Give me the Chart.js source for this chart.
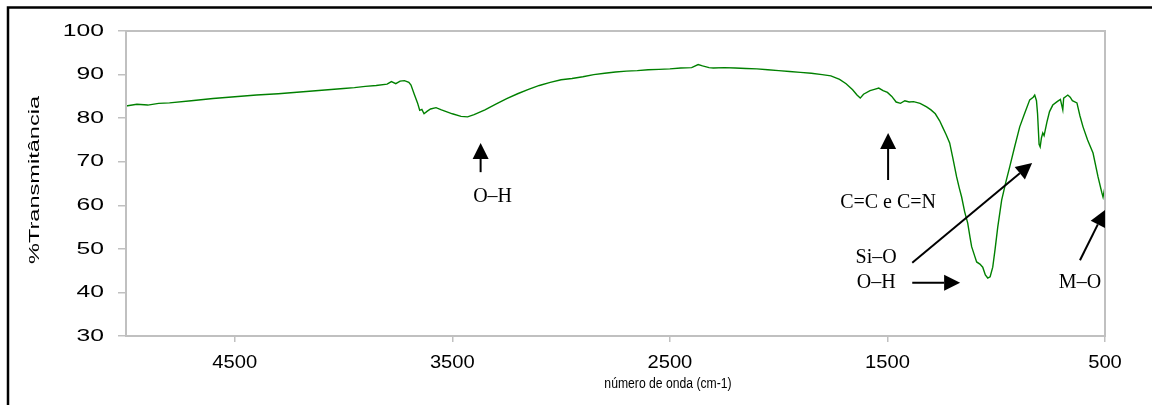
<!DOCTYPE html>
<html>
<head>
<meta charset="utf-8">
<script src="https://cdn.jsdelivr.net/npm/chart.js@4.4.0/dist/chart.umd.min.js"></script>
<style>
  body { margin: 0; background: #fff; }
  canvas { display: block; }
</style>
</head>
<body>
<canvas id="myChart" width="1152" height="405"></canvas>
<script>
const numeroOnda = [
    5000, 4950, 4900, 4850, 4800, 4700, 4600, 4500, 4400, 4300, 4200, 4100, 4000, 3950, 3900, 3850,
    3800, 3780, 3760, 3740, 3720, 3700, 3690, 3675, 3660, 3650, 3640, 3630, 3615, 3600, 3575, 3550,
    3500, 3460, 3430, 3400, 3350, 3300, 3250, 3200, 3150, 3100, 3050, 3000, 2950, 2900, 2850, 2800,
    2750, 2700, 2650, 2600, 2550, 2500, 2450, 2400, 2370, 2350, 2320, 2300, 2250, 2200, 2150, 2100,
    2050, 2000, 1950, 1900, 1850, 1800, 1760, 1720, 1690, 1660, 1640, 1625, 1610, 1580, 1560, 1540,
    1520, 1500, 1480, 1460, 1440, 1420, 1400, 1380, 1350, 1320, 1300, 1280, 1260, 1247, 1230, 1214,
    1200, 1182, 1170, 1159, 1145, 1131, 1120, 1113, 1100, 1090, 1075, 1062, 1050, 1039, 1028, 1016,
    1005, 993, 975, 955, 938, 915, 892, 870, 846, 830, 823, 815, 810, 803, 798, 792,
    786, 780, 767, 755, 740, 720, 705, 694, 690, 671, 660, 650, 629, 615, 601, 580,
    555, 532, 515, 509, 503, 500
];

// % Transmitância
const transmitancia = [
    82.8, 83.2, 83.0, 83.4, 83.5, 84.0, 84.5, 84.9, 85.3, 85.6, 86.0, 86.4, 86.8, 87.0, 87.3, 87.5,
    87.8, 88.4, 87.9, 88.5, 88.6, 88.2, 87.6, 85.5, 83.5, 81.8, 82.0, 81.0, 81.6, 82.1, 82.4, 81.9,
    81.0, 80.4, 80.3, 80.8, 81.9, 83.2, 84.5, 85.6, 86.6, 87.5, 88.2, 88.8, 89.1, 89.5, 90.0, 90.3,
    90.6, 90.8, 90.9, 91.1, 91.2, 91.3, 91.5, 91.6, 92.3, 92.0, 91.6, 91.5, 91.6, 91.5, 91.4, 91.3,
    91.1, 90.9, 90.7, 90.5, 90.3, 90.0, 89.7, 88.9, 87.9, 86.5, 85.3, 84.6, 85.5, 86.3, 86.6, 86.9,
    86.3, 85.9, 85.0, 83.7, 83.4, 84.0, 83.7, 83.8, 83.4, 82.6, 81.9, 81.0, 79.4, 78.0, 76.2, 74.3,
    71.0, 66.5, 64.0, 61.9, 58.5, 55.9, 52.5, 50.5, 48.5, 47.0, 46.5, 45.8, 44.0, 43.3, 43.6, 45.8,
    50.0, 55.0, 61.2, 65.5, 68.8, 73.5, 78.0, 81.0, 84.2, 84.8, 85.3, 84.0, 81.0, 74.0, 73.4, 75.5,
    76.6, 76.0, 79.1, 81.5, 83.0, 83.8, 84.3, 81.9, 84.6, 85.3, 84.8, 84.0, 83.5, 80.5, 78.0, 75.0,
    72.0, 66.5, 63.0, 61.9, 63.5, 64.2
];

const ticksX = [4500, 3500, 2500, 1500, 500];
const ticksY = [30, 40, 50, 60, 70, 80, 90, 100];

// Anotaciones: texto y flechas en coordenadas de datos
const etiquetas = [
    { texto: 'O–H', x: 3315, y: 61.9 },
    { texto: 'C=C e C=N', x: 1497, y: 60.5 },
    { texto: 'Si–O', x: 1552, y: 47.9 },
    { texto: 'O–H', x: 1552, y: 42.2 },
    { texto: 'M–O', x: 615, y: 42.2 }
];
const flechas = [
    { x0: 3370, y0: 67.6, x1: 3370, y1: 74.3 },
    { x0: 1497, y0: 65.8, x1: 1497, y1: 76.6 },
    { x0: 1386, y0: 46.8, x1: 835, y1: 69.7 },
    { x0: 1386, y0: 42.2, x1: 1166, y1: 42.2 },
    { x0: 615, y0: 47.4, x1: 500, y1: 58.9 }
];

const GRIS = '#c0c0c0';

// texto estirado horizontalmente (como en la imagen original)
function textoEstirado(ctx, txt, x, y, escala, align) {
    ctx.save();
    ctx.translate(x, y);
    ctx.scale(escala, 1);
    ctx.textAlign = align;
    ctx.textBaseline = 'middle';
    ctx.fillText(txt, 0, 0);
    ctx.restore();
}

function flecha(ctx, x0, y0, x1, y1) {
    const ang = Math.atan2(y1 - y0, x1 - x0);
    const largo = 16, ancho = 8;
    const bx = x1 - largo * Math.cos(ang), by = y1 - largo * Math.sin(ang);
    ctx.beginPath();
    ctx.moveTo(x0, y0);
    ctx.lineTo(bx, by);
    ctx.stroke();
    ctx.beginPath();
    ctx.moveTo(x1, y1);
    ctx.lineTo(bx + ancho * Math.sin(ang), by - ancho * Math.cos(ang));
    ctx.lineTo(bx - ancho * Math.sin(ang), by + ancho * Math.cos(ang));
    ctx.closePath();
    ctx.fill();
}

const decoracionPlugin = {
    id: 'decoracion',
    afterDraw: (chart) => {
        const ctx = chart.ctx;
        const area = chart.chartArea;
        const sx = chart.scales.x, sy = chart.scales.y;

        // marco gris del área de trazado
        ctx.save();
        ctx.strokeStyle = GRIS;
        ctx.lineWidth = 2;
        ctx.strokeRect(area.left, area.top, area.right - area.left, area.bottom - area.top);

        // marco negro exterior
        ctx.strokeStyle = '#000';
        ctx.lineWidth = 2.5;
        ctx.beginPath();
        ctx.moveTo(8, 405);
        ctx.lineTo(8, 7.5);
        ctx.lineTo(1152, 7.5);
        ctx.stroke();

        // etiquetas de los ejes
        ctx.fillStyle = '#000';
        ctx.font = '17px "Liberation Sans", Arial, sans-serif';
        ticksY.forEach(v => textoEstirado(ctx, String(v), 104, sy.getPixelForValue(v), 1.45, 'right'));
        ctx.font = '18px "Liberation Sans", Arial, sans-serif';
        ticksX.forEach(v => textoEstirado(ctx, String(v), sx.getPixelForValue(v), 363, 1.12, 'center'));

        ctx.font = '14px "Liberation Sans", Arial, sans-serif';
        textoEstirado(ctx, 'número de onda (cm-1)', 668, 384, 0.87, 'center');

        // título eje Y, vertical
        ctx.save();
        ctx.translate(35, 180);
        ctx.rotate(-Math.PI / 2);
        ctx.font = '15px "Liberation Sans", Arial, sans-serif';
        const w = ctx.measureText('%Transmitância').width;
        ctx.scale(168 / w, 1);
        ctx.textAlign = 'center';
        ctx.textBaseline = 'middle';
        ctx.fillText('%Transmitância', 0, 0);
        ctx.restore();

        // anotaciones
        ctx.font = '20px "Liberation Serif", "Times New Roman", serif';
        etiquetas.forEach(e => textoEstirado(ctx, e.texto, sx.getPixelForValue(e.x), sy.getPixelForValue(e.y), 1.0, 'center'));
        ctx.strokeStyle = '#000';
        ctx.lineWidth = 2;
        flechas.forEach(f => flecha(ctx,
            sx.getPixelForValue(f.x0), sy.getPixelForValue(f.y0),
            sx.getPixelForValue(f.x1), sy.getPixelForValue(f.y1)));
        ctx.restore();
    }
};

const puntos = numeroOnda.map((x, i) => ({ x: x, y: transmitancia[i] }));

const ctx = document.getElementById('myChart').getContext('2d');
new Chart(ctx, {
    type: 'scatter',
    data: {
        datasets: [{
            label: '%Transmitância',
            data: puntos,
            showLine: true,
            borderColor: '#008000',
            borderWidth: 1.4,
            pointRadius: 0,
            tension: 0
        }]
    },
    options: {
        responsive: false,
        animation: false,
        layout: { padding: { left: 0, top: 31, right: 47, bottom: 0 } },
        scales: {
            x: {
                type: 'linear',
                reverse: true,
                min: 500,
                max: 5000,
                afterBuildTicks: (scale) => { scale.ticks = ticksX.map(v => ({ value: v })); },
                afterFit: (scale) => { scale.height = 69; },
                ticks: { color: 'rgba(0,0,0,0)', font: { size: 18 } },
                grid: { drawOnChartArea: false, drawTicks: true, tickLength: 6, color: GRIS, lineWidth: 1.5 },
                border: { display: true, color: GRIS, width: 2 }
            },
            y: {
                min: 30,
                max: 100,
                afterBuildTicks: (scale) => { scale.ticks = ticksY.map(v => ({ value: v })); },
                afterFit: (scale) => { scale.width = 126; },
                ticks: { color: 'rgba(0,0,0,0)', font: { size: 17 } },
                grid: { drawOnChartArea: false, drawTicks: true, tickLength: 8, color: GRIS, lineWidth: 1.5 },
                border: { display: true, color: GRIS, width: 2 }
            }
        },
        plugins: {
            legend: { display: false },
            tooltip: { enabled: false }
        }
    },
    plugins: [decoracionPlugin]
});
</script>
</body>
</html>
